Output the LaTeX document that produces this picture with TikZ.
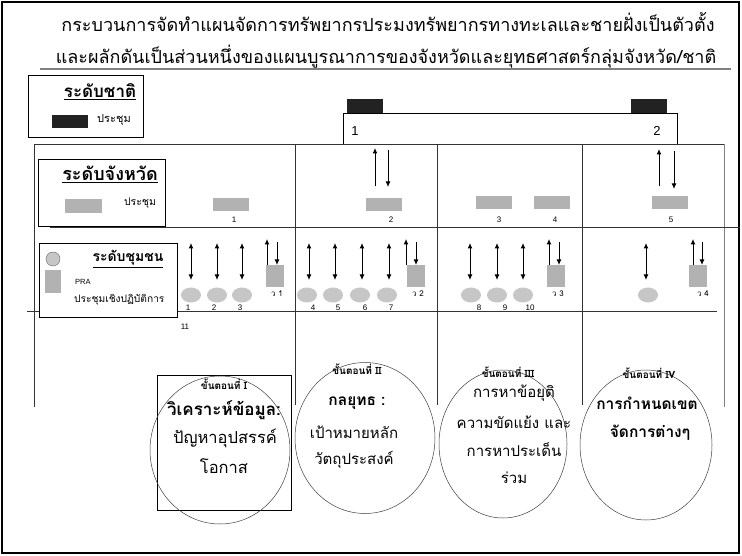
\documentclass[tikz,border=0pt]{standalone}
\usepackage{fontspec}
\setmainfont{Liberation Sans}
\newfontfamily\thai[Script=Thai]{Loma}
\usetikzlibrary{arrows.meta,shapes.geometric}
\definecolor{boxgray}{HTML}{B2B2B2}
\definecolor{ellgray}{HTML}{C6C6C6}
\definecolor{blk}{HTML}{222222}
\definecolor{linegray}{HTML}{808080}
\begin{document}
\begin{tikzpicture}[x=1pt,y=-1pt,
  blackbox/.style={fill=blk,draw=none,minimum width=36pt,minimum height=14pt,inner sep=0pt},
  graybox/.style={fill=boxgray,draw=none,minimum width=36pt,minimum height=13pt,inner sep=0pt},
  sqbox/.style={fill=boxgray,draw=none,minimum width=18pt,minimum height=22pt,inner sep=0pt},
  ellnode/.style={ellipse,fill=ellgray,draw=none,minimum width=20pt,minimum height=15pt,inner sep=0pt},
  numlbl/.style={font=\fontsize{8}{9}\selectfont,inner sep=0pt},
  legbox/.style={draw=black,line width=0.7pt,inner sep=0pt},
  stagecirc/.style={draw=black!75,line width=0.5pt,ellipse,inner sep=0pt},
  stagetxt/.style={font=\thai\fontsize{15}{17}\selectfont,inner sep=0pt},
  stagebold/.style={font=\thai\bfseries\fontsize{15.5}{17}\selectfont,inner sep=0pt},
  stagehead/.style={font=\thai\bfseries\fontsize{10}{11}\selectfont,inner sep=0pt},
  arr/.style={-{Latex[length=5.5pt,width=5pt]},line width=1pt},
  dblarr/.style={{Latex[length=5.5pt,width=5pt]}-{Latex[length=5.5pt,width=5pt]},line width=1pt},
  tline/.style={line width=0.7pt,draw=black!80},
]
\useasboundingbox (0,0) rectangle (742,556);
\fill[white] (0,0) rectangle (742,556);
\draw[line width=2pt] (2,2) rectangle (739,553);

% title
\node[inner sep=0pt,font=\thai\fontsize{18}{20}\selectfont] (t1) at (388,22) {กระบวนการจัดทำแผนจัดการทรัพยากรประมงทรัพยากรทางทะเลและชายฝั่งเป็นตัวตั้ง};
\node[inner sep=0pt,font=\thai\fontsize{18}{20}\selectfont] (t2) at (386,57) {และผลักดันเป็นส่วนหนึ่งของแผนบูรณาการของจังหวัดและยุทธศาสตร์กลุ่มจังหวัด/ชาติ};
\draw[linegray,line width=1.3pt] (40,69) -- (731,69);

% national legend
\node[legbox,minimum width=115pt,minimum height=62pt] (lg1) at (85.5,106.5) {};
\node[inner sep=0pt,font=\thai\bfseries\fontsize{17}{19}\selectfont] (lg1t) at (100,92) {\underline{ระดับชาติ}};
\node[blackbox,minimum height=13pt] (lg1b) at (70,121.5) {};
\node[inner sep=0pt,font=\thai\fontsize{11}{12}\selectfont] (lg1l) at (114,120) {ประชุม};

% national meetings
\node[blackbox] (n1) at (365,106.5) {};
\node[blackbox] (n2) at (649,106.5) {};
\draw[line width=0.6pt] (343,144) -- (343,113.5) -- (677,113.5) -- (677,144);
\node[inner sep=0pt,font=\fontsize{13}{15}\selectfont] (n1l) at (355,131) {1};
\node[inner sep=0pt,font=\fontsize{13}{15}\selectfont] (n2l) at (657,131) {2};

% table lines
\draw[tline] (34,144) -- (724,144);
\draw[tline] (34,144) -- (34,407);
\draw[tline,draw=linegray] (724,144) -- (724,407);
\draw[tline] (295,144) -- (295,405);
\draw[tline] (437,144) -- (437,405);
\draw[tline] (582,144) -- (582,405);
\draw[tline] (50,227) -- (740,227);
\draw[tline] (27,311) -- (717,311);

% province legend
\node[legbox,fill=white,minimum width=127pt,minimum height=67pt] (lg2) at (101.5,192.5) {};
\node[inner sep=0pt,font=\thai\bfseries\fontsize{18}{20}\selectfont] (lg2t) at (110,174) {\underline{ระดับจังหวัด}};
\node[graybox,minimum width=37pt,minimum height=14pt] (lg2b) at (83.5,206) {};
\node[inner sep=0pt,font=\thai\fontsize{10.5}{12}\selectfont] (lg2l) at (140,203) {ประชุม};

% province meetings
\node[graybox] (p1) at (231,205) {};
\node[graybox] (p2) at (384,205) {};
\node[graybox] (p3) at (494,203) {};
\node[graybox] (p4) at (552,203) {};
\node[graybox] (p5) at (670,203) {};
\node[numlbl] (p1l) at (234,220) {1};
\node[numlbl] (p2l) at (391,220) {2};
\node[numlbl] (p3l) at (499,220) {3};
\node[numlbl] (p4l) at (555,220) {4};
\node[numlbl] (p5l) at (671,220) {5};
\coordinate (pa1) at (375,186); \coordinate (pa2) at (375,148);
\coordinate (pa3) at (388,150); \coordinate (pa4) at (388,187);
\coordinate (pa5) at (659,186); \coordinate (pa6) at (659,149);
\coordinate (pa7) at (674,151); \coordinate (pa8) at (674,189);
\draw[arr] (pa1) -- (pa2);
\draw[arr] (pa3) -- (pa4);
\draw[arr] (pa5) -- (pa6);
\draw[arr] (pa7) -- (pa8);

% community legend
\node[legbox,fill=white,minimum width=138pt,minimum height=74pt] (lg3) at (108,280) {};
\node[circle,fill=ellgray,draw=black!60,line width=0.4pt,minimum size=14pt,inner sep=0pt] (lg3c) at (53,259) {};
\node[fill=boxgray,minimum width=16pt,minimum height=23pt,inner sep=0pt] (lg3s) at (53,281.5) {};
\node[inner sep=0pt,font=\thai\bfseries\fontsize{14}{16}\selectfont] (lg3t) at (128,259) {\underline{ระดับชุมชน}};
\node[inner sep=0pt,anchor=west,font=\fontsize{7.5}{9}\selectfont] (lg3p) at (75,282) {PRA};
\node[inner sep=0pt,anchor=west,font=\thai\fontsize{10.2}{12}\selectfont] (lg3w) at (74,300) {ประชุมเชิงปฏิบัติการ};

% community meetings (ellipses)
\foreach \x/\lx/\t [count=\i] in {191/188/1,217/214/2,242/240/3,307/313/4,333/338/5,360/365/6,387/391/7,471/479/8,497/505/9,523/530/10} {
  \node[ellnode] (e\i) at (\x,295) {};
  \node[numlbl] (e\i l) at (\lx,308) {\t};
}
\node[ellnode] (e11) at (648,295) {};
\node[numlbl] (x11) at (185,327) {11};

% double arrows
\foreach \x [count=\i] in {191,217,242,309,335,362,389,470,497,523,646} {
  \coordinate (da\i) at (\x,243);
  \coordinate (db\i) at (\x,280);
  \draw[dblarr] (da\i) -- (db\i);
}

% workshop squares
\foreach \x/\u/\d/\lx [count=\i] in {275/267/277/277,416/406/416/418,556/549/559/558,698/693/702/703} {
  \node[sqbox] (s\i) at (\x,276) {};
  \node[inner sep=0pt,font=\thai\fontsize{8}{9}\selectfont] (s\i l) at (\lx,294) {ว \i};
  \coordinate (su\i a) at (\u,265); \coordinate (su\i b) at (\u,239);
  \coordinate (sd\i a) at (\d,242); \coordinate (sd\i b) at (\d,265);
  \draw[arr] (su\i a) -- (su\i b);
  \draw[arr] (sd\i a) -- (sd\i b);
}

% stages
\node[draw=black,line width=0.6pt,minimum width=134pt,minimum height=135pt,inner sep=0pt] (st1box) at (224,442.5) {};
\node[stagecirc,minimum width=140pt,minimum height=148pt] (c1) at (220,450) {};
\node[stagecirc,minimum width=140pt,minimum height=151pt] (c2) at (365,438) {};
\node[stagecirc,minimum width=128pt,minimum height=148pt] (c3) at (503,444) {};
\node[stagecirc,minimum width=132pt,minimum height=150pt] (c4) at (646,445) {};

\node[stagehead] (h1) at (224,384) {ขั้นตอนที่ I};
\node[stagebold,font=\thai\bfseries\fontsize{17}{19}\selectfont] (a1) at (224,410) {วิเคราะห์ข้อมูล:};
\node[stagetxt,font=\thai\fontsize{16.5}{18}\selectfont] (b1) at (225,438) {ปัญหาอุปสรรค์};
\node[stagetxt,font=\thai\fontsize{16.5}{18}\selectfont] (d1) at (224,466) {โอกาส};

\node[stagehead] (h2) at (357,369) {ขั้นตอนที่ II};
\node[stagebold] (a2) at (357,403) {กลยุทธ :};
\node[stagetxt] (b2) at (354,432) {เป้าหมายหลัก};
\node[stagetxt] (d2) at (354,460) {วัตถุประสงค์};

\node[stagehead] (h3) at (508,372) {ขั้นตอนที่ III};
\node[stagetxt] (a3) at (514,393) {การหาข้อยุติ};
\node[stagetxt] (b3) at (514,422) {ความขัดแย้ง และ};
\node[stagetxt] (d3) at (514,450) {การหาประเด็น};
\node[stagetxt] (f3) at (514,478) {ร่วม};

\node[stagehead] (h4) at (649,373) {ขั้นตอนที่ IV};
\node[stagebold] (a4) at (647,403) {การกำหนดเขต};
\node[stagebold] (b4) at (650,433) {จัดการต่างๆ};
\end{tikzpicture}
\end{document}
